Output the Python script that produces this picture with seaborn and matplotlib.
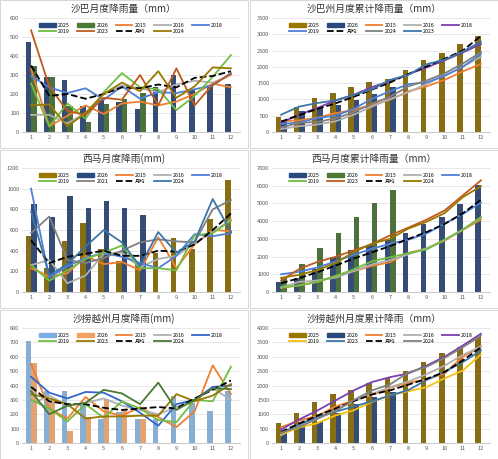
import numpy as np
import pandas as pd
import matplotlib
matplotlib.use("Agg")
import matplotlib.pyplot as plt
import seaborn as sns
from matplotlib.patches import Rectangle

months = [str(m) for m in range(1, 13)]

# 沙巴月度降雨量
sb_2025 = [475, 290, 275, 135, 170, 160, 120, 235, 300, 225, 245, 255]
sb_2026 = [350, 290, 135, 55, 150, 175, 205]
sb_2015 = [330, 30, 85, 140, 95, 150, 160, 140, 160, 200, 255, 235]
sb_2016 = [90, 90, 45, 100, 200, 245, 230, 210, 250, 270, 260, 300]
sb_2018 = [295, 235, 205, 230, 170, 240, 175, 210, 205, 225, 245, 310]
sb_2019 = [255, 30, 150, 70, 210, 310, 235, 225, 115, 190, 290, 405]
sb_2023 = [535, 240, 110, 90, 180, 170, 300, 140, 335, 140, 250, 305]
sb_avg = [350, 190, 200, 175, 200, 235, 230, 250, 235, 285, 295, 320]
sb_2024 = [140, 145, 30, 100, 200, 260, 215, 320, 180, 240, 340, 335]

# 沙巴州月度累计降雨量
sbc_2025 = [460, 770, 1040, 1190, 1370, 1530, 1640, 1900, 2200, 2440, 2690, 2940]
sbc_2026 = [350, 640, 780, 830, 990, 1160, 1370]
sbc_2015 = [330, 360, 440, 580, 680, 830, 990, 1250, 1400, 1600, 1860, 2090]
sbc_2016 = [90, 180, 230, 330, 530, 780, 1010, 1220, 1470, 1740, 2000, 2310]
sbc_2018 = [290, 530, 740, 970, 1140, 1380, 1560, 1770, 1980, 2200, 2440, 2700]
sbc_2019 = [250, 290, 430, 500, 710, 1020, 1250, 1470, 1520, 1720, 2000, 2400]
sbc_avg = [320, 520, 710, 880, 1080, 1300, 1520, 1780, 2010, 2250, 2500, 2950]
sbc_2024 = [140, 280, 310, 420, 610, 870, 1080, 1400, 1580, 1800, 2100, 2450]
sbc_2023 = [530, 780, 890, 970, 1140, 1310, 1600, 1750, 2080, 2220, 2470, 2770]

# 西马月度降雨
wm_2025 = [540, 230, 490, 670, 420, 300, 280, 380, 520, 420, 710, 1080]
wm_2026 = [855, 730, 930, 815, 885, 810, 750]
wm_2015 = [230, 150, 180, 350, 270, 290, 210, 530, 230, 460, 600, 590]
wm_2016 = [260, 310, 85, 160, 370, 380, 240, 320, 350, 470, 580, 700]
wm_2018 = [1000, 140, 250, 330, 380, 340, 280, 230, 350, 560, 540, 570]
wm_2019 = [260, 110, 210, 320, 380, 450, 230, 230, 210, 550, 570, 690]
wm_2021 = [570, 730, 310, 280, 330, 400, 480, 510, 490, 480, 800, 890]
wm_avg = [500, 280, 340, 370, 400, 350, 350, 400, 390, 460, 600, 760]
wm_2024 = [780, 160, 270, 440, 600, 480, 250, 580, 380, 490, 900, 580]

# 西马月度累计降雨量
wmc_2025 = [560, 790, 1280, 1950, 2370, 2670, 2950, 3320, 3840, 4260, 4980, 6060]
wmc_2026 = [850, 1580, 2510, 3320, 4210, 5050, 5780]
wmc_2015 = [230, 380, 560, 910, 1180, 1470, 1680, 2210, 2440, 2900, 3500, 4090]
wmc_2016 = [260, 570, 650, 810, 1180, 1560, 1800, 2120, 2470, 2940, 3520, 4220]
wmc_2018 = [1000, 1140, 1390, 1720, 2100, 2440, 2720, 2950, 3300, 3860, 4400, 5050]
wmc_2019 = [260, 370, 580, 900, 1280, 1730, 1960, 2190, 2400, 2950, 3520, 4210]
wmc_2023 = [650, 1300, 1700, 1990, 2350, 2700, 3200, 3630, 4080, 4600, 5450, 6300]
wmc_avg = [500, 780, 1120, 1490, 1890, 2240, 2590, 2990, 3380, 3840, 4440, 5200]
wmc_2024 = [800, 970, 1230, 1650, 2250, 2730, 3000, 3580, 3960, 4450, 5350, 5970]

# 沙捞越州月度降雨
sw_2025 = [710, 360, 360, 270, 165, 215, 170, 165, 330, 280, 225, 360]
sw_2026 = [555, 290, 85, 180, 305, 230, 170]
sw_2015 = [550, 240, 170, 320, 220, 190, 250, 180, 110, 220, 540, 340]
sw_2016 = [270, 330, 260, 280, 310, 260, 230, 200, 250, 300, 380, 300]
sw_2018 = [460, 350, 310, 355, 350, 290, 210, 120, 270, 300, 390, 400]
sw_2019 = [300, 240, 150, 270, 175, 290, 240, 160, 145, 300, 290, 530]
sw_2023 = [340, 310, 270, 170, 185, 185, 190, 190, 340, 290, 330, 410]
sw_avg = [390, 290, 270, 270, 245, 230, 240, 250, 240, 310, 370, 435]
sw_2024 = [360, 200, 260, 280, 370, 345, 270, 420, 230, 300, 380, 375]

# 沙捞越州月度累计降雨
swc_2025 = [710, 1060, 1430, 1690, 1860, 2090, 2270, 2500, 2830, 3120, 3340, 3700]
swc_2026 = [370, 660, 740, 1060, 1350, 1600, 1780]
swc_2015 = [550, 780, 950, 1270, 1480, 1670, 1920, 2100, 2210, 2420, 3000, 3350]
swc_2016 = [270, 600, 860, 1140, 1450, 1710, 1940, 2140, 2390, 2690, 3060, 3360]
swc_2018 = [470, 820, 1130, 1480, 1830, 2120, 2290, 2420, 2690, 3000, 3390, 3800]
swc_2019 = [300, 540, 690, 960, 1140, 1430, 1660, 1800, 1940, 2250, 2520, 3080]
swc_2023 = [340, 650, 910, 1090, 1270, 1450, 1650, 1840, 2190, 2480, 2810, 3220]
swc_avg = [390, 680, 950, 1200, 1460, 1690, 1830, 2030, 2230, 2470, 2870, 3330]
swc_2024 = [360, 560, 840, 1120, 1490, 1830, 2040, 2450, 2650, 2960, 3330, 3730]

NAVY, GREEN, OLIVE = "#2a4a7f", "#4a7a34", "#9a7800"
ORANGE, LGRAY, BLUE = "#f07f30", "#b0b0b0", "#4f7fd8"
LGREEN, BROWN, DGRAY = "#6fbf40", "#c05a1c", "#808080"
STEEL, PURPLE, YELLOW = "#3c75a8", "#7b3fb0", "#f5bf10"

plt.rcParams['font.family'] = ['Noto Sans CJK SC', 'DejaVu Sans']
fig = plt.figure(figsize=(4.98, 4.59), dpi=100)
W, H = 498, 459


def panel(x0, y0, w, h, title, bars, lines, ymax, step):
    # border box in pixels
    fig.patches.append(Rectangle((x0 / W, 1 - (y0 + h) / H), w / W, h / H,
                                 transform=fig.transFigure, fill=False,
                                 ec="#d0d0d0", lw=0.6))
    fig.text((x0 + w / 2) / W, 1 - (y0 + 9) / H, title, ha="center",
             va="center", fontsize=7, color="#333333")
    ax = fig.add_axes([(x0 + 22) / W, 1 - (y0 + h - 16) / H,
                       (w - 30) / W, (h - 34) / H])
    rows = []
    for name, (vals, c) in bars.items():
        for i, v in enumerate(vals):
            rows.append({"m": months[i], "v": v, "s": name})
    df = pd.DataFrame(rows)
    sns.barplot(data=df, x="m", y="v", hue="s", order=months,
                hue_order=list(bars), palette={k: c for k, (v, c) in bars.items()},
                width=0.6, ax=ax, legend=False)
    handles = [plt.Rectangle((0, 0), 1, 1, color=c) for k, (v, c) in bars.items()]
    labels = list(bars)
    for name, (vals, c) in lines.items():
        ls = "--" if name == "月均" else "-"
        sns.lineplot(x=np.arange(len(vals)), y=vals, color=c, lw=1.3,
                     linestyle=ls, ax=ax)
        handles.append(ax.lines[-1])
        labels.append(name)
    # row-major legend order for 5 columns x 2 rows
    order = [0, 5, 1, 6, 2, 7, 3, 8, 4]
    ax.set_xlim(-0.5, 11.5)
    ax.set_ylim(0, ymax)
    ax.set_yticks(np.arange(0, ymax + 1, step))
    ax.tick_params(labelsize=4, length=0, colors="#555555", pad=2)
    ax.set_xlabel("")
    ax.set_ylabel("")
    ax.grid(axis="y", color="#dddddd", lw=0.5)
    ax.set_axisbelow(True)
    for s in ["top", "right", "left"]:
        ax.spines[s].set_visible(False)
    ax.spines["bottom"].set_color("#cccccc")
    ax.legend([handles[i] for i in order], [labels[i] for i in order],
              ncol=5, loc="upper center",
              bbox_to_anchor=(0.5, 1.0), fontsize=3.8, frameon=False,
              handlelength=3.2, columnspacing=1.4, labelspacing=0.3,
              handletextpad=0.4)
    return ax


panel(0, 0, 248, 148, "沙巴月度降雨量（mm）",
      {"2025": (sb_2025, NAVY), "2026": (sb_2026, GREEN)},
      {"2015": (sb_2015, ORANGE), "2016": (sb_2016, LGRAY), "2018": (sb_2018, BLUE),
       "2019": (sb_2019, LGREEN), "2023": (sb_2023, BROWN), "月均": (sb_avg, "black"),
       "2024": (sb_2024, OLIVE)}, 600, 100)

panel(250, 0, 248, 148, "沙巴州月度累计降雨量（mm）",
      {"2025": (sbc_2025, OLIVE), "2026": (sbc_2026, NAVY)},
      {"2015": (sbc_2015, ORANGE), "2016": (sbc_2016, LGRAY), "2018": (sbc_2018, PURPLE),
       "2019": (sbc_2019, BLUE), "月均": (sbc_avg, "black"), "2024": (sbc_2024, DGRAY),
       "2023": (sbc_2023, STEEL)}, 3500, 500)

panel(0, 150, 248, 158, "西马月度降雨(mm)",
      {"2025": (wm_2025, OLIVE), "2026": (wm_2026, NAVY)},
      {"2015": (wm_2015, ORANGE), "2016": (wm_2016, LGRAY), "2018": (wm_2018, BLUE),
       "2019": (wm_2019, LGREEN), "2021": (wm_2021, DGRAY), "月均": (wm_avg, "black"),
       "2024": (wm_2024, STEEL)}, 1200, 200)

panel(250, 150, 248, 158, "西马月度累计降雨量（mm）",
      {"2025": (wmc_2025, NAVY), "2026": (wmc_2026, GREEN)},
      {"2015": (wmc_2015, ORANGE), "2016": (wmc_2016, LGRAY), "2018": (wmc_2018, BLUE),
       "2019": (wmc_2019, LGREEN), "2023": (wmc_2023, BROWN), "月均": (wmc_avg, "black"),
       "2024": (wmc_2024, OLIVE)}, 7000, 1000)

panel(0, 310, 248, 149, "沙捞越州月度降雨(mm)",
      {"2025": (sw_2025, "#7aaee0"), "2026": (sw_2026, "#f4a060")},
      {"2015": (sw_2015, ORANGE), "2016": (sw_2016, LGRAY), "2018": (sw_2018, "#3366cc"),
       "2019": (sw_2019, LGREEN), "2023": (sw_2023, OLIVE), "月均": (sw_avg, "black"),
       "2024": (sw_2024, GREEN)}, 800, 100)

panel(250, 310, 248, 149, "沙捞越州月度累计降雨（mm）",
      {"2025": (swc_2025, OLIVE), "2026": (swc_2026, NAVY)},
      {"2015": (swc_2015, ORANGE), "2016": (swc_2016, LGRAY), "2018": (swc_2018, PURPLE),
       "2019": (swc_2019, YELLOW), "2023": (swc_2023, STEEL), "月均": (swc_avg, "black"),
       "2024": (swc_2024, DGRAY)}, 4000, 500)

fig.savefig("out.png", dpi=100)
